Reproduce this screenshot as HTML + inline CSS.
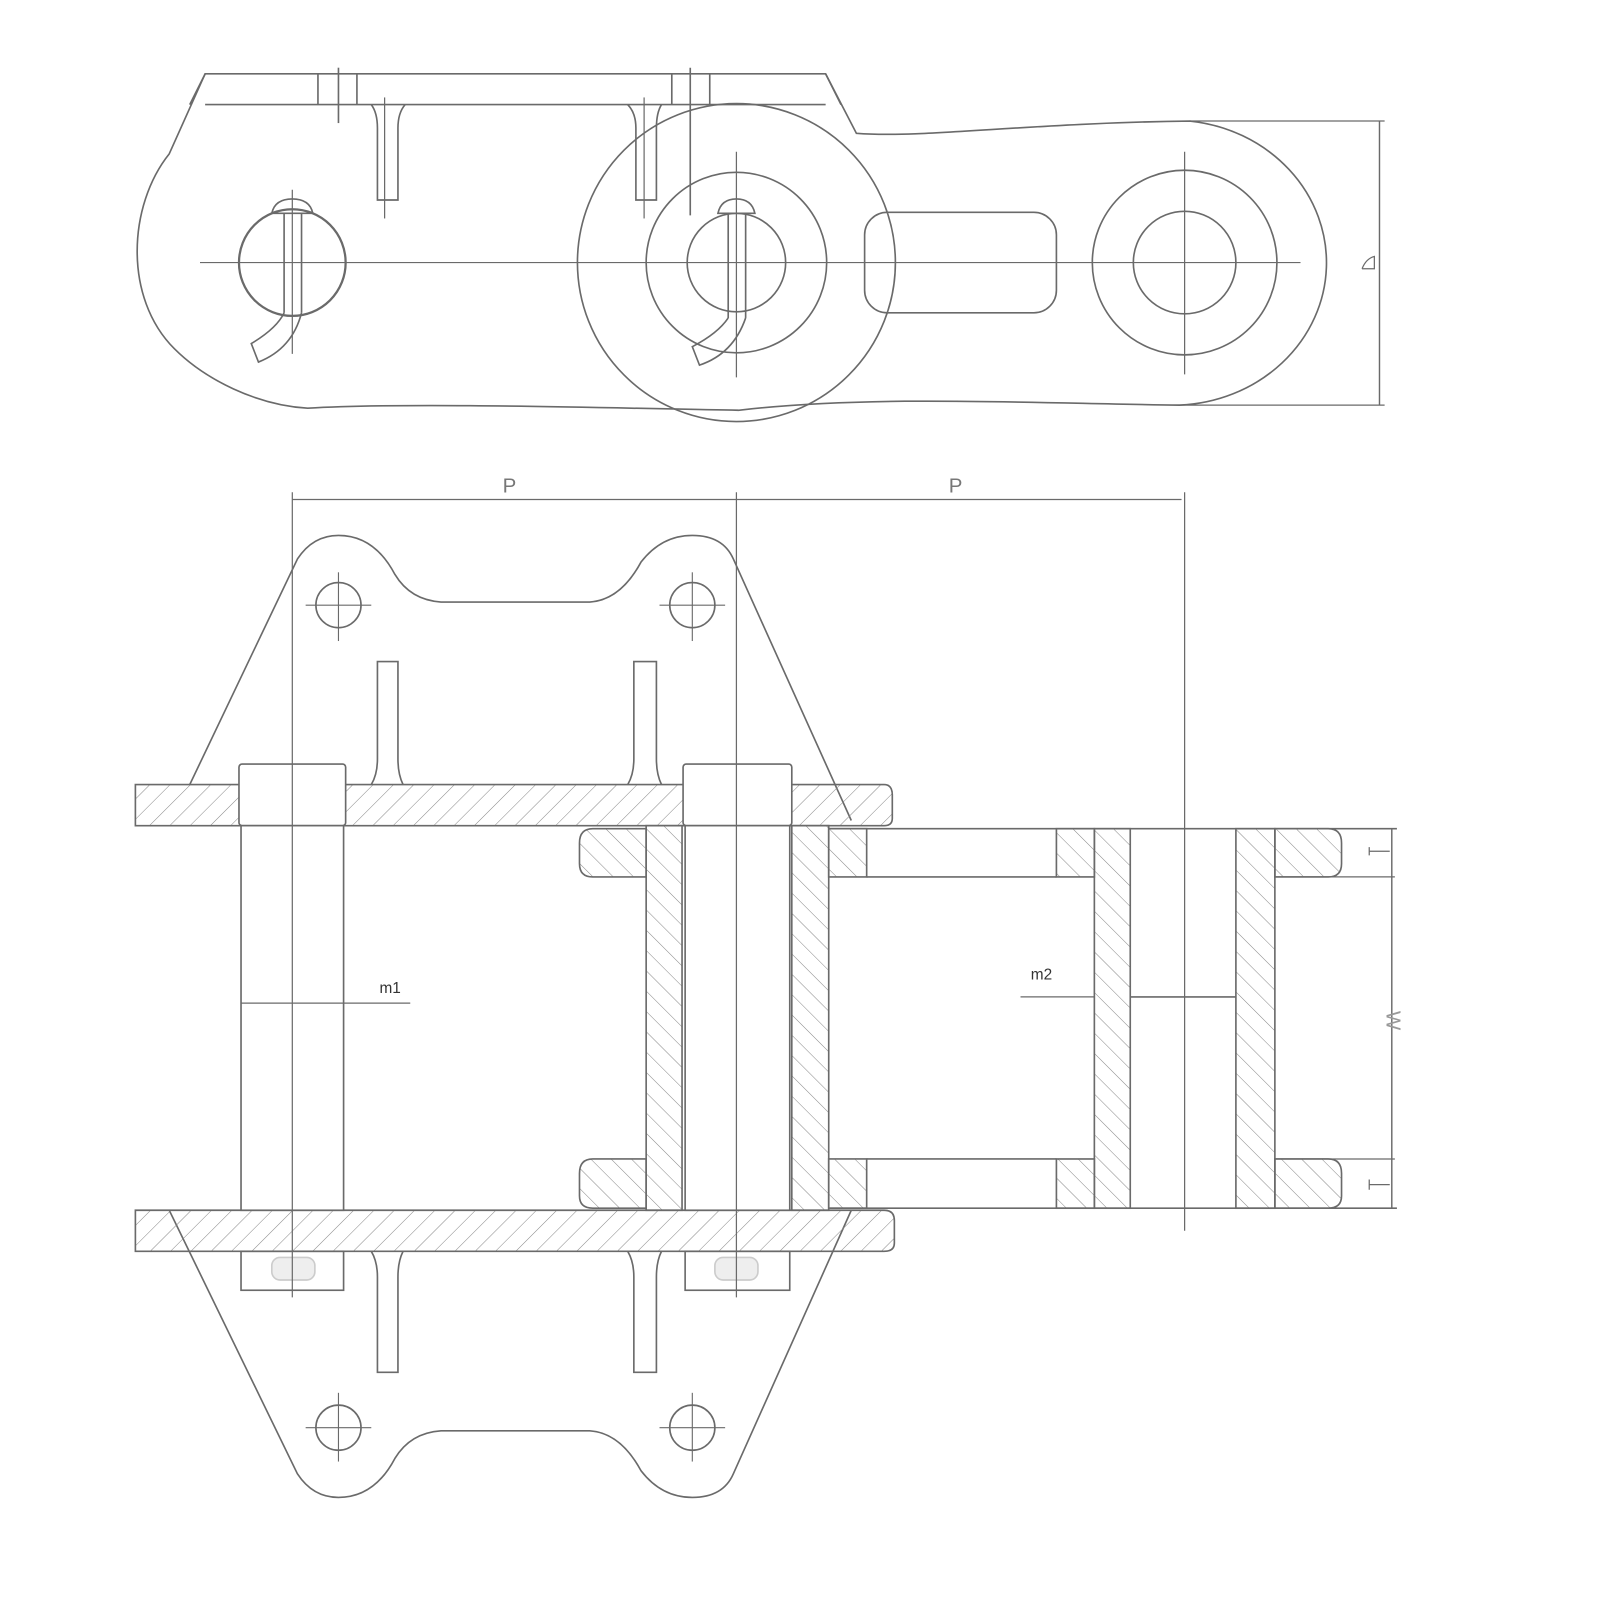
<!DOCTYPE html>
<html><head><meta charset="utf-8"><style>html,body{margin:0;padding:0;background:#fff}svg{display:block}</style></head>
<body>
<svg width="1600" height="1600" viewBox="0 0 1560 1560" xmlns="http://www.w3.org/2000/svg" fill="none" stroke="#6a6a6a" stroke-width="1.6" font-family="Liberation Sans, sans-serif">
<defs>
<pattern id="hf" width="14" height="14" patternUnits="userSpaceOnUse" patternTransform="rotate(45)"><line x1="0" y1="0" x2="0" y2="14" stroke="#888" stroke-width="1"/></pattern>
<pattern id="hb" width="14" height="14" patternUnits="userSpaceOnUse" patternTransform="rotate(-45)"><line x1="0" y1="0" x2="0" y2="14" stroke="#888" stroke-width="1"/></pattern>
</defs>
<!-- TOP VIEW -->
<g>
<path d="M200,72 L805,72 L835,130 C900,135 1000,120 1160,118 A150,139 0 0 1 1150,395 C1000,393 850,385 720,400 C600,398 400,392 300,398 C250,395 200,370 170,340 C120,290 125,200 165,150 Z"/>
<line x1="200" y1="102" x2="805" y2="102"/>
<line x1="200" y1="72" x2="185" y2="102"/>
<line x1="805" y1="72" x2="820" y2="102"/>
<circle cx="718" cy="256" r="155"/>
<circle cx="718" cy="256" r="88"/>
<circle cx="718" cy="256" r="48"/>
<circle cx="285" cy="256" r="52" stroke-width="2.2"/>
<circle cx="1155" cy="256" r="90"/>
<circle cx="1155" cy="256" r="50"/>
<rect x="843" y="207" width="187" height="98" rx="22"/>
<line x1="195" y1="256" x2="1268" y2="256" stroke-width="1.2"/>
<line x1="285" y1="185" x2="285" y2="345" stroke-width="1.2"/>
<line x1="718" y1="148" x2="718" y2="368" stroke-width="1.2"/>
<line x1="1155" y1="148" x2="1155" y2="365" stroke-width="1.2"/>
<line x1="310" y1="72" x2="310" y2="102"/><line x1="330" y1="66" x2="330" y2="120"/><line x1="348" y1="72" x2="348" y2="102"/>
<line x1="655" y1="72" x2="655" y2="102"/><line x1="673" y1="66" x2="673" y2="210"/><line x1="692" y1="72" x2="692" y2="102"/>
<path d="M362,102 Q368,110 368,125 L368,195 L388,195 L388,125 Q388,110 395,102"/>
<line x1="375" y1="95" x2="375" y2="213" stroke-width="1.2"/>
<path d="M612,102 Q620,110 620,125 L620,195 L640,195 L640,125 Q640,110 645,102"/>
<line x1="628" y1="95" x2="628" y2="213" stroke-width="1.2"/>
<!-- cotter pins -->
<path d="M265,208 Q268,194 285,194 Q302,194 305,208 Z"/>
<line x1="277" y1="208" x2="277" y2="305"/><line x1="294" y1="208" x2="294" y2="305"/>
<path d="M277,305 Q270,320 245,335 L252,353 Q285,340 294,305"/>
<path d="M700,208 Q703,194 718,194 Q733,194 736,208 Z"/>
<line x1="710" y1="208" x2="710" y2="310"/><line x1="727" y1="208" x2="727" y2="310"/>
<path d="M710,310 Q700,325 675,338 L682,356 Q715,345 727,310"/>
<!-- h dim -->
<line x1="1160" y1="118" x2="1350" y2="118" stroke-width="1.2"/>
<line x1="1150" y1="395" x2="1350" y2="395" stroke-width="1.2"/>
<line x1="1345" y1="118" x2="1345" y2="395" stroke-width="1.4"/>
<path d="M1328,262 L1340,262 L1340,250 Q1332,252 1328,262" stroke-width="1.2"/>
</g>
<!-- BOTTOM VIEW -->
<g>
<line x1="285" y1="487" x2="1152" y2="487" stroke-width="1.2"/>
<line x1="285" y1="480" x2="285" y2="760" stroke-width="1.2"/>
<line x1="718" y1="480" x2="718" y2="760" stroke-width="1.2"/>
<line x1="1155" y1="480" x2="1155" y2="1200" stroke-width="1.2"/>
<text x="490" y="480" font-size="20" fill="#777" stroke="none">P</text>
<text x="925" y="480" font-size="20" fill="#777" stroke="none">P</text>
<!-- top attachment -->
<path d="M185,765 L290,545 Q305,522 330,522 Q365,522 385,560 Q400,585 430,587 L575,587 Q605,585 625,548 Q645,522 675,522 Q705,522 715,545 L830,800"/>
<circle cx="330" cy="590" r="22"/><line x1="298" y1="590" x2="362" y2="590" stroke-width="1.1"/><line x1="330" y1="558" x2="330" y2="625" stroke-width="1.1"/>
<circle cx="675" cy="590" r="22"/><line x1="643" y1="590" x2="707" y2="590" stroke-width="1.1"/><line x1="675" y1="558" x2="675" y2="625" stroke-width="1.1"/>
<path d="M362,765 Q368,755 368,740 L368,645 L388,645 L388,740 Q388,755 393,765"/>
<path d="M612,765 Q618,755 618,740 L618,645 L640,645 L640,740 Q640,755 645,765"/>
<!-- bottom attachment -->
<path d="M165,1180 L290,1437 Q305,1460 330,1460 Q365,1460 385,1422 Q400,1397 430,1395 L575,1395 Q605,1397 625,1434 Q645,1460 675,1460 Q705,1460 715,1437 L830,1180"/>
<circle cx="330" cy="1392" r="22"/><line x1="298" y1="1392" x2="362" y2="1392" stroke-width="1.1"/><line x1="330" y1="1358" x2="330" y2="1425" stroke-width="1.1"/>
<circle cx="675" cy="1392" r="22"/><line x1="643" y1="1392" x2="707" y2="1392" stroke-width="1.1"/><line x1="675" y1="1358" x2="675" y2="1425" stroke-width="1.1"/>
<path d="M362,1220 Q368,1230 368,1245 L368,1338 L388,1338 L388,1245 Q388,1230 393,1220"/>
<path d="M612,1220 Q618,1230 618,1245 L618,1338 L640,1338 L640,1245 Q640,1230 645,1220"/>
<!-- plates -->
<path d="M132,765 L862,765 Q870,765 870,775 L870,798 Q870,805 862,805 L132,805 Z" fill="url(#hf)"/>
<path d="M132,1180 L862,1180 Q872,1180 872,1190 L872,1212 Q872,1220 862,1220 L132,1220 Z" fill="url(#hf)"/>
<!-- inner link -->
<rect x="630" y="805" width="35" height="375" fill="url(#hb)"/>
<rect x="772" y="805" width="36" height="375" fill="url(#hb)"/>
<path d="M630,808 L578,808 Q565,808 565,822 L565,842 Q565,855 578,855 L630,855 Z" fill="url(#hb)"/>
<path d="M630,1130 L578,1130 Q565,1130 565,1144 L565,1166 Q565,1178 578,1178 L630,1178 Z" fill="url(#hb)"/>
<path d="M808,808 L845,808 L845,855 L808,855 Z" fill="url(#hb)"/>
<path d="M808,1130 L845,1130 L845,1178 L808,1178 Z" fill="url(#hb)"/>
<!-- pins -->
<rect x="233" y="745" width="104" height="60" rx="3" fill="#fff"/>
<rect x="666" y="745" width="106" height="60" rx="3" fill="#fff"/>
<rect x="235" y="805" width="100" height="375" fill="#fff"/>
<rect x="668" y="805" width="102" height="375" fill="#fff"/>
<rect x="235" y="1220" width="100" height="38"/>
<rect x="668" y="1220" width="102" height="38"/>
<rect x="265" y="1226" width="42" height="22" rx="8" fill="#eee" stroke="#ccc"/>
<rect x="697" y="1226" width="42" height="22" rx="8" fill="#eee" stroke="#ccc"/>
<line x1="285" y1="745" x2="285" y2="1265" stroke-width="1.2"/>
<line x1="718" y1="745" x2="718" y2="1265" stroke-width="1.2"/>
<line x1="235" y1="978" x2="400" y2="978" stroke-width="1.2"/>
<text x="370" y="968" font-size="15" fill="#333" stroke="none">m1</text>
<!-- right link -->
<line x1="808" y1="808" x2="1362" y2="808"/>
<line x1="808" y1="1178" x2="1362" y2="1178"/>
<line x1="845" y1="855" x2="1030" y2="855"/>
<line x1="845" y1="1130" x2="1030" y2="1130"/>
<rect x="1030" y="808" width="37" height="47" fill="url(#hb)"/>
<rect x="1030" y="1130" width="37" height="48" fill="url(#hb)"/>
<rect x="1067" y="808" width="35" height="370" fill="url(#hb)"/>
<rect x="1205" y="808" width="38" height="370" fill="url(#hb)"/>
<path d="M1243,808 L1295,808 Q1308,808 1308,822 L1308,842 Q1308,855 1295,855 L1243,855 Z" fill="url(#hb)"/>
<path d="M1243,1130 L1295,1130 Q1308,1130 1308,1144 L1308,1166 Q1308,1178 1295,1178 L1243,1178 Z" fill="url(#hb)"/>
<line x1="1243" y1="855" x2="1360" y2="855" stroke-width="1.2"/>
<line x1="1243" y1="1130" x2="1360" y2="1130" stroke-width="1.2"/>
<line x1="1102" y1="972" x2="1205" y2="972"/>
<line x1="995" y1="972" x2="1067" y2="972" stroke-width="1.2"/>
<text x="1005" y="955" font-size="15" fill="#333" stroke="none">m2</text>
<line x1="1357" y1="808" x2="1357" y2="1178" stroke-width="1.4"/>
<text x="1352" y="995" font-size="20" fill="#999" stroke="none" transform="rotate(90 1352 995)" text-anchor="middle">W</text>
<path d="M1335,826 L1335,834 M1335,830 L1355,830 M1335,1150 L1335,1160 M1335,1155 L1355,1155" stroke-width="1.2"/>
</g>
</svg>
</body></html>
